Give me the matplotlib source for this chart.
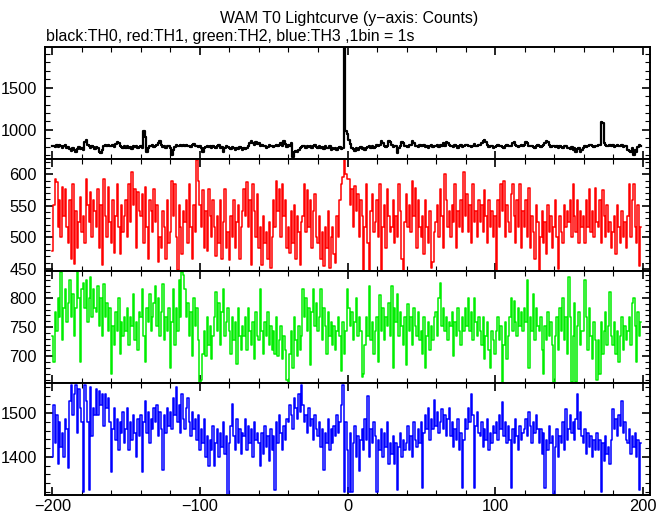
import numpy as np
import matplotlib
matplotlib.use("Agg")
import matplotlib.pyplot as plt
from matplotlib.ticker import MultipleLocator

plt.rcParams['font.family'] = ['Liberation Sans', 'DejaVu Sans']

# 1 s bins, t = -200 ... 199, one row = 10 s
th0 = [
    805, 816, 795, 820, 799, 828, 810, 790, 813, 825,
    783, 801, 775, 753, 790, 768, 738, 780, 798, 771,
    790, 760, 860, 878, 828, 805, 783, 816, 795, 775,
    798, 783, 745, 728, 768, 813, 820, 810, 828, 816,
    805, 825, 798, 835, 860, 843, 816, 798, 783, 805,
    790, 813, 783, 798, 775, 805, 795, 816, 783, 798,
    805, 790, 990, 915, 735, 783, 813, 805, 820, 798,
    810, 828, 843, 865, 820, 798, 813, 790, 805, 816,
    783, 705, 768, 798, 820, 810, 816, 828, 805, 820,
    813, 828, 805, 816, 798, 820, 835, 810, 813, 798,
    805, 790, 740, 783, 798, 813, 795, 805, 783, 816,
    798, 790, 805, 820, 783, 795, 745, 783, 805, 798,
    790, 775, 798, 783, 768, 790, 775, 798, 783, 768,
    790, 775, 783, 813, 843, 865, 850, 828, 858, 835,
    850, 813, 828, 805, 813, 790, 798, 820, 805, 813,
    798, 813, 828, 805, 820, 843, 813, 865, 835, 798,
    820, 805, 843, 680, 740, 750, 735, 760, 783, 798,
    813, 805, 790, 816, 798, 810, 783, 805, 820, 798,
    790, 805, 783, 798, 775, 813, 790, 783, 805, 768,
    783, 775, 790, 768, 783, 798, 775, 783, 2300, 985,
    955, 880, 830, 783, 775, 753, 790, 768, 783, 798,
    775, 790, 768, 783, 798, 813, 790, 805, 783, 798,
    820, 805, 828, 870, 843, 816, 798, 813, 875, 858,
    820, 798, 813, 805, 725, 783, 813, 860, 843, 805,
    816, 798, 820, 828, 865, 850, 813, 805, 798, 820,
    805, 816, 828, 798, 813, 790, 805, 820, 798, 813,
    805, 820, 798, 828, 813, 843, 805, 860, 850, 820,
    805, 813, 798, 820, 810, 790, 813, 828, 798, 805,
    820, 828, 813, 805, 798, 816, 835, 813, 805, 825,
    828, 843, 865, 880, 858, 820, 798, 813, 805, 790,
    798, 813, 820, 805, 816, 798, 790, 810, 820, 813,
    805, 816, 850, 858, 820, 810, 798, 816, 828, 805,
    820, 860, 850, 813, 805, 816, 798, 790, 810, 820,
    805, 798, 816, 828, 843, 865, 858, 820, 798, 813,
    805, 798, 816, 790, 805, 798, 783, 805, 813, 790,
    783, 775, 798, 768, 790, 740, 775, 783, 745, 768,
    790, 813, 798, 805, 820, 828, 810, 798, 816, 805,
    820, 828, 1090, 1085, 843, 820, 805, 816, 828, 810,
    820, 798, 816, 828, 805, 813, 820, 798, 810, 816,
    768, 753, 738, 783, 705, 760, 745, 798, 820, 813,
]

th1 = [
    479, 551, 593, 588, 516, 559, 500, 580, 534, 576,
    516, 491, 559, 466, 585, 458, 542, 483, 525, 564,
    508, 534, 491, 593, 551, 525, 572, 500, 559, 542,
    516, 576, 483, 551, 457, 593, 534, 500, 580, 525,
    491, 559, 475, 534, 585, 516, 474, 551, 508, 534,
    559, 500, 585, 525, 603, 551, 576, 483, 572, 542,
    534, 568, 491, 580, 516, 466, 559, 542, 508, 576,
    525, 551, 461, 500, 483, 542, 516, 466, 559, 491,
    508, 589, 534, 585, 500, 448, 551, 516, 474, 542,
    525, 559, 491, 585, 516, 466, 551, 508, 622, 590,
    551, 516, 575, 483, 542, 479, 576, 534, 500, 559,
    516, 470, 534, 491, 559, 466, 525, 576, 483, 508,
    465, 534, 500, 559, 483, 525, 551, 466, 516, 542,
    576, 534, 588, 516, 559, 456, 585, 542, 500, 568,
    483, 516, 457, 534, 491, 508, 466, 525, 452, 500,
    559, 516, 590, 542, 576, 500, 585, 534, 559, 483,
    516, 475, 542, 491, 551, 466, 534, 508, 457, 525,
    534, 585, 508, 575, 516, 559, 483, 542, 568, 500,
    491, 534, 466, 508, 455, 516, 483, 542, 452, 500,
    516, 474, 460, 534, 500, 559, 585, 596, 622, 600,
    592, 593, 551, 576, 516, 582, 542, 568, 500, 559,
    534, 448, 516, 585, 491, 448, 542, 568, 508, 525,
    559, 500, 585, 448, 516, 551, 483, 576, 534, 508,
    516, 559, 491, 534, 500, 585, 542, 466, 448, 525,
    568, 516, 551, 508, 590, 534, 578, 483, 559, 516,
    500, 534, 474, 559, 516, 491, 542, 452, 462, 508,
    525, 551, 500, 576, 534, 483, 600, 559, 516, 542,
    500, 551, 525, 585, 483, 542, 516, 559, 508, 603,
    534, 568, 508, 551, 491, 585, 525, 542, 500, 559,
    525, 551, 508, 575, 534, 491, 559, 516, 542, 500,
    534, 448, 559, 516, 585, 542, 590, 500, 551, 525,
    508, 568, 585, 534, 491, 559, 516, 585, 483, 542,
    516, 559, 500, 578, 483, 534, 508, 466, 551, 525,
    448, 500, 542, 491, 525, 474, 551, 508, 534, 483,
    516, 559, 500, 450, 534, 508, 491, 551, 516, 542,
    525, 559, 500, 585, 534, 508, 559, 491, 542, 516,
    534, 491, 559, 516, 576, 508, 542, 500, 578, 525,
    516, 559, 491, 575, 534, 500, 551, 508, 525, 483,
    508, 534, 474, 551, 516, 491, 542, 500, 525, 483,
    534, 585, 500, 559, 585, 516, 491, 551, 455, 516,
]

th2 = [
    735, 690, 775, 743, 799, 767, 845, 727, 783, 815,
    759, 791, 831, 767, 807, 735, 783, 847, 799, 690,
    815, 825, 783, 831, 759, 799, 835, 767, 815, 783,
    775, 820, 751, 799, 735, 823, 767, 791, 743, 783,
    670, 751, 719, 775, 743, 799, 703, 759, 735, 767,
    743, 783, 719, 767, 751, 807, 727, 759, 711, 775,
    767, 815, 735, 690, 783, 759, 807, 743, 767, 791,
    820, 751, 799, 735, 775, 823, 727, 767, 743, 783,
    680, 759, 815, 719, 783, 743, 831, 767, 845, 840,
    815, 767, 791, 735, 775, 700, 799, 751, 783, 727,
    655, 660, 703, 743, 700, 767, 719, 751, 695, 735,
    767, 810, 743, 791, 719, 775, 815, 735, 759, 783,
    743, 703, 767, 727, 759, 687, 783, 735, 711, 751,
    735, 767, 711, 783, 743, 719, 759, 695, 775, 735,
    727, 815, 743, 703, 759, 735, 775, 719, 751, 711,
    743, 703, 767, 700, 727, 751, 695, 735, 711, 660,
    655, 703, 743, 679, 767, 727, 700, 751, 711, 735,
    815, 767, 799, 743, 783, 685, 775, 815, 751, 791,
    743, 767, 815, 727, 783, 751, 703, 775, 735, 759,
    719, 751, 711, 743, 767, 735, 675, 759, 703, 743,
    815, 783, 751, 775, 727, 759, 799, 735, 767, 743,
    665, 670, 719, 767, 735, 820, 727, 759, 703, 743,
    767, 690, 805, 743, 783, 727, 767, 751, 791, 735,
    820, 680, 783, 759, 807, 735, 775, 751, 719, 767,
    685, 790, 743, 767, 719, 783, 751, 735, 775, 727,
    743, 703, 767, 680, 735, 759, 711, 751, 727, 767,
    775, 735, 799, 825, 751, 783, 743, 767, 727, 759,
    751, 775, 700, 759, 735, 783, 743, 719, 767, 743,
    783, 751, 800, 743, 775, 727, 799, 759, 735, 767,
    743, 719, 767, 695, 735, 759, 711, 680, 743, 727,
    703, 743, 767, 727, 751, 655, 719, 759, 695, 735,
    767, 799, 743, 795, 759, 735, 783, 751, 775, 743,
    783, 759, 830, 680, 767, 743, 807, 727, 783, 751,
    743, 767, 711, 670, 751, 727, 775, 735, 759, 719,
    655, 735, 767, 711, 783, 743, 800, 727, 767, 703,
    835, 767, 655, 735, 791, 655, 751, 775, 719, 743,
    743, 830, 767, 711, 783, 735, 695, 759, 727, 660,
    727, 670, 759, 703, 743, 775, 719, 751, 810, 735,
    719, 759, 703, 743, 690, 735, 767, 711, 751, 727,
    743, 767, 719, 791, 800, 751, 690, 775, 735, 759,
]

th3 = [
    1399, 1519, 1431, 1495, 1383, 1479, 1423, 1455, 1400, 1487,
    1463, 1375, 1527, 1565, 1495, 1543, 1565, 1455, 1555, 1511,
    1479, 1320, 1565, 1527, 1479, 1325, 1559, 1447, 1511, 1495,
    1555, 1495, 1550, 1519, 1543, 1471, 1545, 1511, 1535, 1479,
    1365, 1463, 1511, 1439, 1487, 1415, 1479, 1455, 1503, 1431,
    1463, 1511, 1415, 1479, 1439, 1495, 1455, 1399, 1487, 1447,
    1495, 1365, 1479, 1527, 1455, 1503, 1431, 1487, 1463, 1511,
    1479, 1519, 1447, 1503, 1463, 1370, 1495, 1455, 1511, 1471,
    1503, 1463, 1535, 1495, 1560, 1479, 1519, 1455, 1543, 1487,
    1463, 1511, 1535, 1479, 1447, 1503, 1463, 1487, 1439, 1495,
    1415, 1463, 1431, 1487, 1399, 1447, 1380, 1439, 1415, 1471,
    1380, 1431, 1463, 1399, 1455, 1423, 1479, 1407, 1447, 1310,
    1431, 1471, 1520, 1447, 1415, 1487, 1431, 1463, 1407, 1455,
    1447, 1487, 1415, 1471, 1431, 1463, 1399, 1479, 1439, 1455,
    1431, 1380, 1455, 1407, 1471, 1423, 1447, 1390, 1463, 1415,
    1447, 1325, 1479, 1431, 1495, 1455, 1415, 1471, 1439, 1487,
    1479, 1519, 1495, 1463, 1535, 1511, 1487, 1543, 1503, 1565,
    1519, 1479, 1495, 1455, 1511, 1471, 1487, 1439, 1495, 1463,
    1447, 1479, 1423, 1463, 1370, 1455, 1431, 1487, 1415, 1463,
    1431, 1471, 1447, 1495, 1455, 1479, 1519, 1565, 1320, 1479,
    1415, 1320, 1455, 1320, 1431, 1471, 1399, 1447, 1367, 1439,
    1463, 1415, 1487, 1439, 1540, 1399, 1463, 1431, 1479, 1447,
    1320, 1439, 1415, 1463, 1399, 1455, 1423, 1479, 1383, 1431,
    1407, 1447, 1383, 1431, 1325, 1423, 1455, 1399, 1439, 1415,
    1431, 1471, 1415, 1447, 1399, 1479, 1439, 1423, 1463, 1431,
    1479, 1330, 1455, 1495, 1463, 1511, 1439, 1487, 1463, 1530,
    1471, 1503, 1455, 1479, 1510, 1463, 1495, 1447, 1487, 1511,
    1447, 1479, 1423, 1463, 1439, 1487, 1415, 1455, 1330, 1439,
    1487, 1463, 1511, 1479, 1545, 1495, 1330, 1471, 1503, 1455,
    1447, 1479, 1423, 1463, 1439, 1487, 1415, 1455, 1431, 1471,
    1455, 1479, 1439, 1495, 1463, 1525, 1447, 1479, 1431, 1471,
    1439, 1330, 1463, 1431, 1487, 1447, 1415, 1471, 1439, 1455,
    1463, 1487, 1447, 1503, 1471, 1431, 1479, 1455, 1495, 1463,
    1431, 1463, 1407, 1455, 1330, 1439, 1415, 1471, 1431, 1447,
    1315, 1423, 1463, 1399, 1447, 1431, 1479, 1415, 1510, 1439,
    1463, 1495, 1455, 1479, 1439, 1487, 1545, 1463, 1503, 1447,
    1431, 1463, 1407, 1455, 1423, 1447, 1399, 1439, 1415, 1455,
    1415, 1439, 1320, 1431, 1391, 1447, 1407, 1423, 1383, 1439,
    1510, 1463, 1487, 1447, 1495, 1471, 1527, 1455, 1479, 1439,
    1431, 1463, 1407, 1447, 1423, 1455, 1399, 1439, 1325, 1431,
]

t = np.arange(-200, 200)

series = [th0, th1, th2, th3]
colors = ['black', '#ff0000', '#00ee00', '#0000ff']
widths = [1.6, 1.1, 1.1, 1.1]
ylims = [(657, 1980), (447, 624), (654, 846), (1313, 1569)]
ymajor = [500, 50, 50, 100]
yminor = [100, 10, 10, 20]

fig = plt.figure(figsize=(6.69, 5.15), dpi=100)
left = 45 / 669
width = (650 - 45) / 669
top = 1 - 47 / 515
h = (495 - 47) / 4 / 515

axes = []
for i in range(4):
    ax = fig.add_axes([left, top - (i + 1) * h, width, h])
    ax.plot(t, series[i], drawstyle='steps-mid', color=colors[i], lw=widths[i])
    ax.set_xlim(-205, 205)
    ax.set_ylim(*ylims[i])
    ax.xaxis.set_major_locator(MultipleLocator(100))
    ax.xaxis.set_minor_locator(MultipleLocator(20))
    ax.yaxis.set_major_locator(MultipleLocator(ymajor[i]))
    ax.yaxis.set_minor_locator(MultipleLocator(yminor[i]))
    ax.tick_params(which='both', direction='in', top=True, right=True,
                   labelsize=11.8)
    ax.tick_params(axis='y', pad=6)
    ax.tick_params(axis='x', pad=3)
    ax.tick_params(which='major', length=6, width=1.2)
    ax.tick_params(which='minor', length=3.5, width=0.8)
    for s in ax.spines.values():
        s.set_linewidth(1.4)
    if i < 3:
        ax.tick_params(labelbottom=False)
    axes.append(ax)

fig.text(349 / 669, 1 - 18.5 / 515, 'WAM T0 Lightcurve (y\u2212axis: Counts)',
         ha='center', va='center', fontsize=11.4)
fig.text(46 / 669, 1 - 36.5 / 515, 'black:TH0, red:TH1, green:TH2, blue:TH3 ,1bin = 1s',
         ha='left', va='center', fontsize=11.4)

fig.savefig('out.png', dpi=100)
